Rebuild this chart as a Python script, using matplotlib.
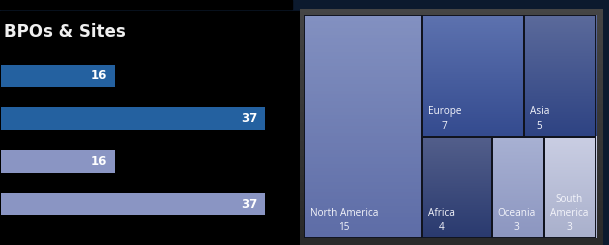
import numpy as np
import matplotlib.pyplot as plt
from matplotlib.colors import to_rgb
from matplotlib.patches import Rectangle

# left panel: BPOs & Sites bars
bar_values = [16, 37, 16, 37]
bar_colors = ['#2461a0', '#2461a0', '#8a95c3', '#8a95c3']

# right panel: treemap by region
regions = ['North America', 'Europe', 'Asia', 'Africa', 'Oceania', 'South America']
region_counts = [15, 7, 5, 4, 3, 3]
top_colors = ['#8391c1', '#5d72af', '#5b6a9b', '#535f8b', '#a8b1d3', '#cacee3']
bottom_colors = ['#5e6da7', '#344b8f', '#2e4383', '#2a3a6f', '#8c96c0', '#a9b0cc']

W, H = 609, 245
fig = plt.figure(figsize=(W / 100, H / 100), dpi=100)
fig.patch.set_facecolor('#0c1a2e')


def px(x, y, w, h):  # pixel box measured from top-left -> figure fraction
    return [x / W, 1 - (y + h) / H, w / W, h / H]


def squarify(vals, x, y, w, h):
    rects = []
    vals = list(vals)
    while vals:
        scale = w * h / sum(vals)
        areas = [v * scale for v in vals]
        side = min(w, h)

        def worst(r):
            t = sum(r) / side
            return max(max(t * t / a, a / (t * t)) for a in r)

        row = [areas[0]]
        i = 1
        while i < len(areas) and worst(row + [areas[i]]) <= worst(row):
            row.append(areas[i])
            i += 1
        t = sum(row) / side
        if w >= h:
            yy = y
            for a in row:
                rects.append((x, yy, t, a / t))
                yy += a / t
            x += t
            w -= t
        else:
            xx = x
            for a in row:
                rects.append((xx, y, a / t, t))
                xx += a / t
            y += t
            h -= t
        vals = vals[i:]
    return rects


def gradient(c0, c1, n=64):
    c0, c1 = np.array(to_rgb(c0)), np.array(to_rgb(c1))
    f = np.linspace(0, 1, n)[:, None]
    return (c0 * (1 - f) + c1 * f)[:, None, :]


# background panels
fig.add_artist(Rectangle((0, 1 - 9 / H), 292 / W, 9 / H, transform=fig.transFigure,
                         color='black', zorder=0))
fig.add_artist(Rectangle((0, 0), 300 / W, 1 - 11 / H, transform=fig.transFigure,
                         color='black', zorder=0))

# bars
ax = fig.add_axes(px(1, 11, 299, 234))
ax.barh(range(len(bar_values)), bar_values, height=0.53, color=bar_colors)
for i, v in enumerate(bar_values):
    ax.annotate(str(v), (v, i), xytext=(-8, 0), textcoords='offset pixels',
                ha='right', va='center', color='white', fontsize=8.5, fontweight='bold')
ax.set_xlim(0, 37 * 299 / 264)
ax.set_ylim(3.96, -1.52)
ax.set_axis_off()

fig.text(4 / W, 1 - 37 / H, 'BPOs & Sites', va='baseline', ha='left', fontsize=12,
         fontweight='bold', color='#f0f0f0', family='DejaVu Sans')

# treemap frame
fax = fig.add_axes(px(300, 9, 303, 236))
fax.imshow(gradient('#454545', '#2a2a2a'), aspect='auto', extent=(0, 1, 0, 1))
fax.set_axis_off()

# treemap
tw, th = 292.5, 223
tax = fig.add_axes(px(303.5, 15, tw, th))
rects = squarify(region_counts, 0, 0, tw, th)
for (x, y, w, h), name, n, c0, c1 in zip(rects, regions, region_counts, top_colors, bottom_colors):
    tax.imshow(gradient(c0, c1), aspect='auto', extent=(x, x + w, y + h, y), origin='upper')
    tax.add_patch(Rectangle((x, y), w, h, fill=False, edgecolor='#10131e', lw=1.4))
    label = name.replace(' ', '\n') if w < 60 else name
    tax.text(x + 6, y + h - 5, f'{label}\n{n}', ha='left', va='bottom', multialignment='center',
             fontsize=7.2, color='#f4f5fb', family='Open Sans', linespacing=1.4)
tax.set_xlim(0, tw)
tax.set_ylim(th, 0)
tax.set_axis_off()

fig.savefig('out.png', dpi=100, facecolor=fig.get_facecolor())
